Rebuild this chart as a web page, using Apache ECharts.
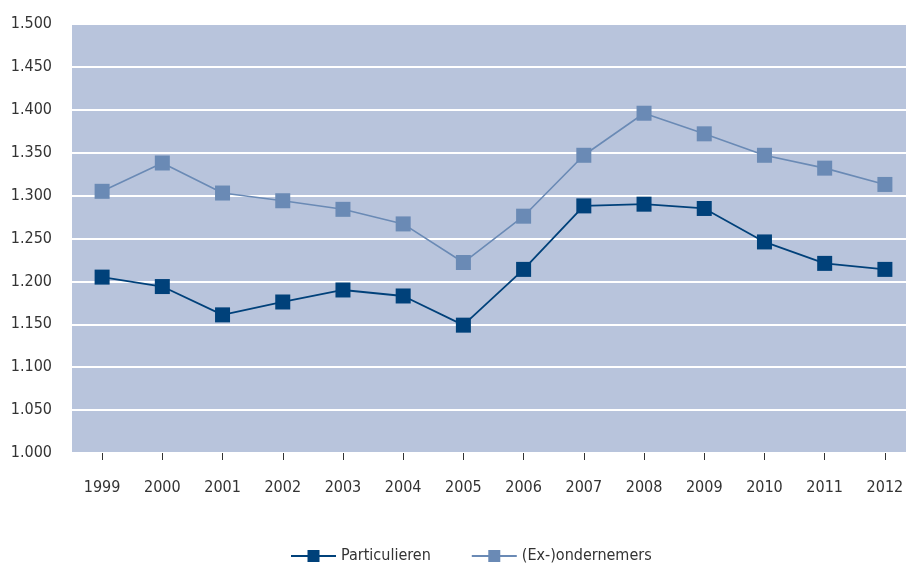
<!DOCTYPE html>
<html>
<head>
<meta charset="utf-8">
<script src="https://cdn.jsdelivr.net/npm/echarts@6/dist/echarts.min.js"></script>
<style>html,body{margin:0;padding:0;background:#fff;overflow:hidden;}#c{width:915px;height:566px;}</style>
</head>
<body>
<div id="c"></div>
<script>
const years = ['1999','2000','2001','2002','2003','2004','2005','2006','2007','2008','2009','2010','2011','2012'];
const particulieren = [1.205,1.194,1.161,1.176,1.190,1.183,1.149,1.214,1.288,1.290,1.285,1.246,1.221,1.214];
const exOndernemers = [1.305,1.338,1.303,1.294,1.284,1.267,1.222,1.276,1.347,1.396,1.372,1.347,1.332,1.313];
const seriesNames = ['Particulieren','(Ex-)ondernemers'];

const chart = echarts.init(document.getElementById('c'));
const font = 'DejaVu Sans Condensed, DejaVu Sans';
chart.setOption({
  animation: false,
  textStyle: {fontFamily: font},
  grid: {left: 72, top: 24, right: 0, height: 429, backgroundColor: '#B8C4DC', show: true, borderWidth: 0},
  legend: {
    top: 543, left: 285, itemWidth: 45, itemHeight: 15, itemGap: 40,
    textStyle: {fontFamily: font, fontSize: 16, color: '#333'},
    data: seriesNames
  },
  xAxis: {
    type: 'category', data: years, boundaryGap: true,
    axisLine: {show: false},
    axisTick: {show: true, alignWithLabel: true, length: 7, lineStyle: {color: '#333'}},
    axisLabel: {fontFamily: font, fontSize: 16, color: '#333', margin: 27}
  },
  yAxis: {
    type: 'value', min: 1, max: 1.5, interval: 0.05,
    axisLine: {show: false}, axisTick: {show: false},
    splitLine: {lineStyle: {color: '#ffffff', width: 2}},
    axisLabel: {fontFamily: font, fontSize: 16, color: '#333', margin: 20, formatter: v => v.toFixed(3)}
  },
  series: [
    {name: seriesNames[0], type: 'line', data: particulieren, symbol: 'rect', symbolSize: 15,
     itemStyle: {color: '#00417A'}, lineStyle: {color: '#00417A', width: 1.8}},
    {name: seriesNames[1], type: 'line', data: exOndernemers, symbol: 'rect', symbolSize: 15,
     itemStyle: {color: '#6A8AB5'}, lineStyle: {color: '#6A8AB5', width: 1.6}}
  ]
});
</script>
</body>
</html>
